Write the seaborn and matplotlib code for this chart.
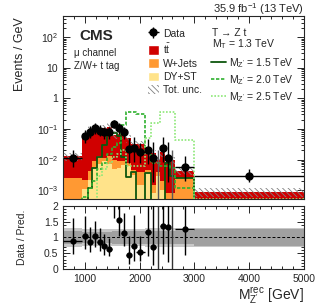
import matplotlib
matplotlib.use("Agg")
import matplotlib.pyplot as plt
import matplotlib.ticker as mticker
from matplotlib.lines import Line2D
from matplotlib.patches import Patch
import numpy as np
import pandas as pd
import seaborn as sns

# binning of M_Z'^rec [GeV]
bin_edges = [600, 950, 1050, 1135, 1220, 1310, 1400, 1490, 1580, 1665, 1755,
             1845, 1930, 2100, 2200, 2290, 2380, 2465, 2555, 2645, 3000, 5000]

# observed events per bin
data_counts = [4, 6, 7, 9, 8, 7, 7, 13, 9, 7, 2, 2, 3, 2, 1, 0, 2, 1, 0, 2, 6]

# backgrounds, events / GeV
ttbar = [0.0102, 0.0544, 0.0915, 0.0917, 0.089, 0.0964, 0.107, 0.055, 0.059, 0.059, 0.0422,
         0.0273, 0.029, 0.0125, 0.0148, 0.0055, 0.0152, 0.0076, 0.0087, 0.0019, 0.0006]
wjets = [0.0022, 0.0011, 0.0021, 0.0036, 0.006, 0.0025, 0.006, 0.0052, 0.0035, 0.0021, 0.0018,
         0.0015, 0.0025, 0.001, 0.0007, 0.001, 0.001, 0.0004, 0.0004, 0.0022, 0.0002]
dyst = [0.0003, 0.0011, 0.0022, 0.0055, 0.007, 0.0091, 0.007, 0.0048, 0.0055, 0.0069, 0.006,
        0.0032, 0.0015, 0.0037, 0.0008, 0.003, 0.001, 0.0004, 0.0004, 0.0003, 0.0001]

# signals, events / GeV
sig_1500 = [0, 0, 0.0012, 0.0055, 0.012, 0.03, 0.065, 0.075, 0.06, 0.012, 0.0028, 0.0041,
            0.0001, 0.0037, 0.0001, 0.0001, 0.0001, 0.008, 0.003, 0.0025, 0]
sig_2000 = [0, 0.0006, 0.0012, 0.002, 0.005, 0.008, 0.015, 0.025, 0.035, 0.14, 0.35, 0.35,
            0.3, 0.02, 0.008, 0.008, 0.006, 0.006, 0.0055, 0.0012, 0.0002]
sig_2500 = [0, 0, 0, 0.0003, 0.003, 0.005, 0.008, 0.012, 0.015, 0.02, 0.006, 0.006,
            0.006, 0.05, 0.16, 0.16, 0.35, 0.35, 0.35, 0.045, 0.0005]

# relative uncertainties on the prediction
unc_stat = [0.2, 0.17, 0.17, 0.17, 0.17, 0.17, 0.17, 0.2, 0.2, 0.2, 0.2, 0.2, 0.2,
            0.21, 0.21, 0.21, 0.21, 0.21, 0.21, 0.2, 0.28]
unc_tot = [0.3, 0.28, 0.27, 0.27, 0.27, 0.27, 0.27, 0.28, 0.28, 0.28, 0.28, 0.28, 0.28,
           0.3, 0.3, 0.3, 0.3, 0.3, 0.3, 0.3, 0.31]

# Garwood 68% intervals for small counts
garwood_lo = [0, 0.173, 0.708, 1.367, 2.086, 2.840, 3.620, 4.419, 5.232, 6.057, 6.891, 7.734, 8.585, 9.441]
garwood_hi = [1.841, 3.300, 4.638, 5.918, 7.163, 8.382, 9.584, 10.77, 11.95, 13.11, 14.27, 15.42, 16.56, 17.70]

C_TT, C_WJ, C_DY = "#d00000", "#ff9933", "#ffe38a"
C_S15, C_S20, C_S25 = "#0d560d", "#2fb02f", "#8ee878"
HATCH = "\\\\\\\\\\\\"

sns.set_style("ticks")
plt.rcParams["font.family"] = ["Liberation Sans", "DejaVu Sans"]
plt.rcParams["mathtext.fontset"] = "custom"
plt.rcParams["mathtext.rm"] = "Liberation Sans"
plt.rcParams["mathtext.it"] = "Liberation Sans:italic"
plt.rcParams["mathtext.bf"] = "Liberation Sans:bold"
plt.rcParams["hatch.linewidth"] = 0.6
plt.rcParams["axes.linewidth"] = 0.8

edges = np.array(bin_edges, float)
centers = 0.5 * (edges[1:] + edges[:-1])
widths = np.diff(edges)
counts = np.array(data_counts)
total = np.array(ttbar) + np.array(wjets) + np.array(dyst)

data_y = counts / widths
lo = (counts - np.array([garwood_lo[n] for n in counts])) / widths
hi = (np.array([garwood_hi[n] for n in counts]) - counts) / widths

fig = plt.figure(figsize=(3.24, 3.05), dpi=100)
ax = fig.add_axes([0.195, 0.346, 0.742, 0.602])
rax = fig.add_axes([0.195, 0.118, 0.742, 0.207])

# stacked backgrounds
bkg = pd.DataFrame({
    "mass": np.tile(centers, 3),
    "val": np.concatenate([ttbar, wjets, dyst]),
    "proc": np.repeat(["ttbar", "wjets", "dyst"], len(centers)),
})
sns.histplot(data=bkg, x="mass", weights="val", hue="proc",
             hue_order=["ttbar", "wjets", "dyst"], bins=bin_edges,
             multiple="stack", element="step", palette=[C_TT, C_WJ, C_DY],
             alpha=1, linewidth=0, legend=False, ax=ax)

# total uncertainty, hatched
tot_unc = np.array(unc_tot)
ax.stairs(total * (1 + tot_unc), edges, baseline=total * (1 - tot_unc), fill=True,
          facecolor="none", edgecolor="0.5", hatch=HATCH, linewidth=0, zorder=3)

# signals
for sig, col, ls, lw in [(sig_1500, C_S15, "-", 1.3), (sig_2000, C_S20, (0, (2, 1)), 1.2),
                         (sig_2500, C_S25, (0, (1, 1)), 1.2)]:
    sig_df = pd.DataFrame({"mass": centers, "val": sig})
    sns.histplot(data=sig_df, x="mass", weights="val", bins=bin_edges, element="step",
                 fill=False, color=col, linewidth=lw, linestyle=ls, ax=ax, zorder=4)

# data
nz = counts > 0
eb = ax.errorbar(centers[nz], data_y[nz], xerr=widths[nz] / 2, yerr=[lo[nz], hi[nz]],
                 fmt="o", color="k", ms=5, lw=1, capsize=0, zorder=6)
ax.errorbar(centers[~nz], np.full((~nz).sum(), 1e-6), yerr=[np.zeros((~nz).sum()), hi[~nz]],
            fmt="none", ecolor="0.35", lw=1, capsize=0, zorder=5)

ax.set_yscale("log")
ax.set_xlim(600, 5000)
ax.set_ylim(5e-4, 5e2)
ax.set_xlabel("")
ax.set_ylabel("Events / GeV", fontsize=9, loc="top")
ax.yaxis.set_label_coords(-0.155, 0.99)
ax.xaxis.set_major_locator(mticker.MultipleLocator(1000))
ax.xaxis.set_minor_locator(mticker.MultipleLocator(200))
ax.set_xticklabels([])


def log_fmt(v, pos):
    e = int(round(np.log10(v)))
    if e == 0:
        return "1"
    if e == 1:
        return "10"
    return r"10$^{%d}$" % e


ax.yaxis.set_major_formatter(mticker.FuncFormatter(log_fmt))
ax.yaxis.set_minor_locator(mticker.LogLocator(base=10, subs=np.arange(2, 10), numticks=20))
ax.yaxis.set_minor_formatter(mticker.NullFormatter())

# ratio panel
stat_unc = np.array(unc_stat)
rax.stairs(1 + tot_unc, edges, baseline=1 - tot_unc, fill=True, color="#c8c8c8", lw=0)
rax.stairs(1 + stat_unc, edges, baseline=1 - stat_unc, fill=True, color="#a0a0a0", lw=0)
rax.axhline(1, color="k", ls=(0, (3, 2)), lw=0.7)
ratio = data_y / total
rax.errorbar(centers[nz], ratio[nz], xerr=widths[nz] / 2, yerr=[lo[nz] / total[nz], hi[nz] / total[nz]],
             fmt="o", color="k", ms=3.5, lw=1, capsize=0, zorder=5)
rax.errorbar(centers[~nz], np.zeros((~nz).sum()), yerr=[np.zeros((~nz).sum()), hi[~nz] / total[~nz]],
             fmt="none", ecolor="0.2", lw=1, capsize=0, zorder=5)
rax.set_xlim(600, 5000)
rax.set_ylim(0, 2)
rax.set_yticks([0, 0.5, 1, 1.5, 2])
rax.set_yticklabels(["0", "0.5", "1", "1.5", "2"])
rax.yaxis.set_minor_locator(mticker.MultipleLocator(0.1))
rax.xaxis.set_major_locator(mticker.MultipleLocator(1000))
rax.xaxis.set_minor_locator(mticker.MultipleLocator(200))
rax.set_ylabel("Data / Pred.", fontsize=7.5)
rax.yaxis.set_label_coords(-0.15, 0.5)
rax.set_xlabel(r"M$^{\rm rec}_{\rm Z'}$ [GeV]", fontsize=10, loc="right", labelpad=1)

for a in (ax, rax):
    a.tick_params(which="both", direction="in", top=True, right=True, labelsize=7.5, width=0.7)
    a.tick_params(which="major", length=5)
    a.tick_params(which="minor", length=2.5)

# texts
fig.text(0.937, 0.959, r"35.9 fb$^{-1}$ (13 TeV)", ha="right", va="baseline", fontsize=8)
fig.text(0.244, 0.869, "CMS", fontsize=11, fontweight="bold", ha="left", va="baseline")
fig.text(0.228, 0.817, "\u03bc channel", fontsize=7, ha="left", va="baseline")
fig.text(0.228, 0.775, "Z/W+ t tag", fontsize=7, ha="left", va="baseline")
fig.text(0.654, 0.882, "T \u2192 Z t", fontsize=7.5, ha="left", va="baseline")
fig.text(0.654, 0.846, r"M$_{\rm T}$ = 1.3 TeV", fontsize=7.5, ha="left", va="baseline")

h_left = [eb, Patch(facecolor=C_TT), Patch(facecolor=C_WJ), Patch(facecolor=C_DY),
          Patch(facecolor="white", edgecolor="0.5", hatch=HATCH, lw=0)]
l_left = ["Data", r"$\rm t\bar{t}$", "W+Jets", "DY+ST", "Tot. unc."]
fig.legend(h_left, l_left, loc="upper left", bbox_to_anchor=(0.456, 0.907),
           frameon=False, fontsize=7.5, handlelength=1.1, handleheight=1.0,
           handletextpad=0.4, labelspacing=0.28, borderpad=0, borderaxespad=0)

h_right = [Line2D([], [], color=C_S15, lw=1.3), Line2D([], [], color=C_S20, lw=1.2, ls=(0, (2, 1))),
           Line2D([], [], color=C_S25, lw=1.2, ls=(0, (1, 1)))]
l_right = [r"M$_{\rm Z'}$ = 1.5 TeV", r"M$_{\rm Z'}$ = 2.0 TeV", r"M$_{\rm Z'}$ = 2.5 TeV"]
fig.legend(h_right, l_right, loc="upper left", bbox_to_anchor=(0.652, 0.815),
           frameon=False, fontsize=7.5, handlelength=1.45, handleheight=1.0,
           handletextpad=0.3, labelspacing=0.28, borderpad=0, borderaxespad=0)

fig.savefig("out.png", dpi=100)
